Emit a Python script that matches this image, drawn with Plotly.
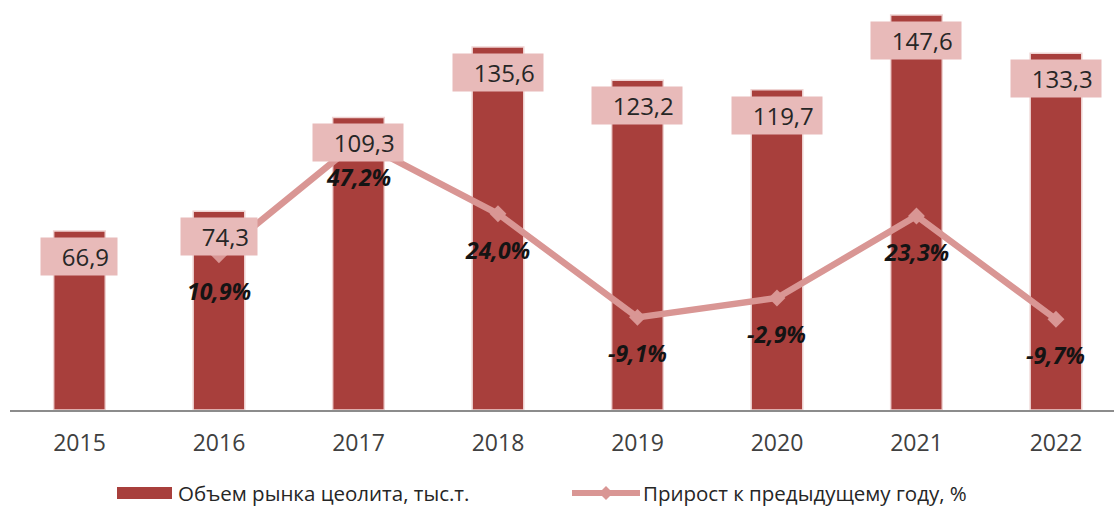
import plotly.graph_objects as go

# Zeolite market volume (thousand tonnes) and year-over-year growth (%)
years = ["2015", "2016", "2017", "2018", "2019", "2020", "2021", "2022"]
volume = [66.9, 74.3, 109.3, 135.6, 123.2, 119.7, 147.6, 133.3]
growth_years = ["2016", "2017", "2018", "2019", "2020", "2021", "2022"]
growth = [10.9, 47.2, 24.0, -9.1, -2.9, 23.3, -9.7]

volume_name = "Объем рынка цеолита, тыс.т."
growth_name = "Прирост к предыдущему году, %"

BAR = "#A83F3C"
LINE = "#D99694"
BOX = "#E8BAB9"
FONT = "Open Sans"

W, H = 1114, 509
ML, MR, MT, MB = 10, 0, 0, 99


def fmt(v, suffix=""):
    return f"{v:.1f}".replace(".", ",") + suffix


fig = go.Figure()

fig.add_trace(go.Bar(
    x=years, y=volume, name=volume_name,
    marker=dict(color=BAR, line=dict(color="#EFD3D2", width=1.5)),
    width=0.37, yaxis="y", showlegend=False, hoverinfo="skip",
))

fig.add_trace(go.Scatter(
    x=growth_years, y=growth, name=growth_name, yaxis="y2",
    mode="lines+markers",
    line=dict(color=LINE, width=6.5),
    marker=dict(symbol="diamond", size=13, color=LINE),
    showlegend=False, hoverinfo="skip",
))

annotations = []
# Value boxes sitting just under the top of each bar
# (category axis: annotations are placed by category index)
for v, yr in zip(volume, years):
    annotations.append(dict(
        x=years.index(yr), y=v, xref="x", yref="y", yanchor="top", yshift=-6,
        text="\u00a0\u00a0\u00a0" + fmt(v) + "\u00a0",
        showarrow=False, bgcolor=BOX, borderpad=2,
        font=dict(family=FONT, size=24, color="#262626"),
    ))
# Growth labels under each line point
for yr, g in zip(growth_years, growth):
    annotations.append(dict(
        x=years.index(yr), y=g, xref="x", yref="y2", yanchor="middle", yshift=-36,
        text="<b><i>" + fmt(g, "%") + "</i></b>", showarrow=False,
        font=dict(family=FONT, size=23, color="#141414"),
    ))

# Legend drawn in paper coordinates below the axis
plot_w = W - ML - MR
plot_h = H - MT - MB


def px(x):
    return (x - ML) / plot_w


def py(y):
    return (H - MB - y) / plot_h


leg_y = 493
shapes = [
    dict(type="rect", xref="paper", yref="paper",
         x0=px(117), x1=px(172), y0=py(499), y1=py(487),
         fillcolor=BAR, line=dict(width=0)),
    dict(type="line", xref="paper", yref="paper",
         x0=px(572), x1=px(640), y0=py(leg_y), y1=py(leg_y),
         line=dict(color=LINE, width=6)),
    dict(type="path", xref="paper", yref="paper",
         path=(f"M {px(606)},{py(leg_y - 7)} L {px(613)},{py(leg_y)} "
               f"L {px(606)},{py(leg_y + 7)} L {px(599)},{py(leg_y)} Z"),
         fillcolor=LINE, line=dict(width=0)),
]
annotations.append(dict(
    x=px(176), y=py(leg_y), xref="paper", yref="paper",
    xanchor="left", yanchor="middle", showarrow=False,
    text=volume_name, font=dict(family=FONT, size=20.5, color="#262626"),
))
annotations.append(dict(
    x=px(641), y=py(leg_y), xref="paper", yref="paper",
    xanchor="left", yanchor="middle", showarrow=False,
    text=growth_name, font=dict(family=FONT, size=20.5, color="#262626"),
))

fig.update_layout(
    width=W, height=H,
    margin=dict(l=ML, r=MR, t=MT, b=MB),
    paper_bgcolor="white", plot_bgcolor="white",
    showlegend=False,
    xaxis=dict(
        type="category", categoryorder="array", categoryarray=years,
        range=[-0.498, 7.416],
        showline=True, linecolor="#8C8C8C", linewidth=1.5,
        ticks="outside", ticklen=12, tickcolor="rgba(0,0,0,0)",
        tickfont=dict(family=FONT, size=23, color="#404040"),
        showgrid=False, zeroline=False,
    ),
    yaxis=dict(range=[0, 153.2], visible=False, showgrid=False, zeroline=False),
    yaxis2=dict(range=[-38.7, 92.3], overlaying="y", visible=False,
                showgrid=False, zeroline=False),
    annotations=annotations,
    shapes=shapes,
)

fig.write_html("out.html")
